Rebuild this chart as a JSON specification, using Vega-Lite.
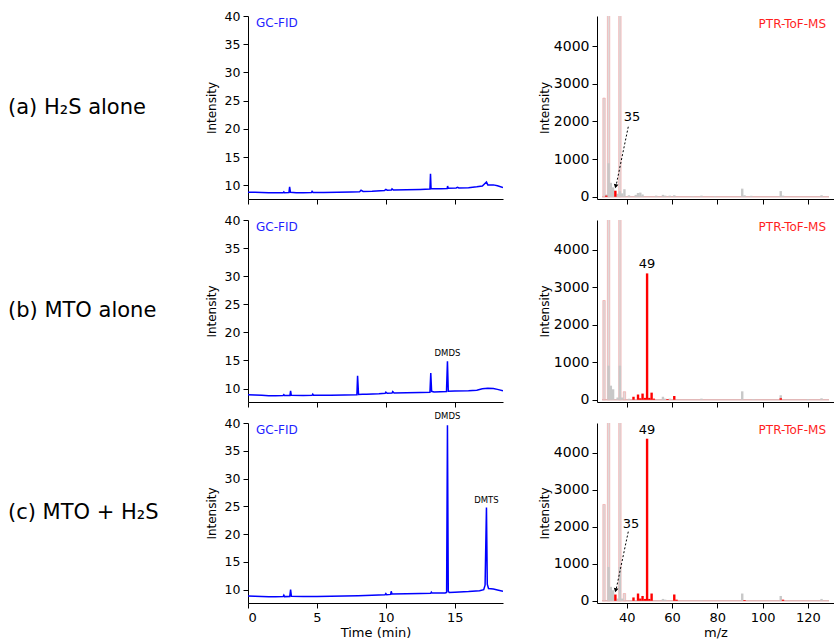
{
  "$schema": "https://vega.github.io/schema/vega-lite/v6.json",
  "padding": {"left": 8, "top": 10, "right": 0, "bottom": 0},
  "background": "white",
  "config": {
    "view": {"stroke": null},
    "text": {"font": "DejaVu Sans", "color": "#000"},
    "axis": {
      "labelFont": "DejaVu Sans", "titleFont": "DejaVu Sans", "titleFontWeight": "normal",
      "labelColor": "#000", "titleColor": "#000", "domainColor": "#000", "tickColor": "#000",
      "grid": false, "tickSize": 5, "labelPadding": 3, "domainWidth": 1, "tickWidth": 1
    }
  },
  "datasets": {
    "gcA": [
      {"t":0,"v":8.8},{"t":0.5,"v":8.78},{"t":1.0,"v":8.75},{"t":1.5,"v":8.72},{"t":2.0,"v":8.7},{"t":2.55,"v":8.72},{"t":2.6,"v":8.85},{"t":2.65,"v":8.72},
      {"t":2.97,"v":8.75},{"t":3.02,"v":9.75},{"t":3.08,"v":8.78},{"t":3.5,"v":8.72},{"t":4.0,"v":8.72},{"t":4.6,"v":8.74},{"t":4.65,"v":8.95},{"t":4.72,"v":8.76},
      {"t":5.5,"v":8.76},{"t":6.5,"v":8.8},{"t":7.5,"v":8.85},{"t":8.1,"v":8.9},{"t":8.2,"v":9.15},{"t":8.35,"v":8.95},{"t":9.0,"v":8.98},{"t":9.9,"v":9.1},
      {"t":10.0,"v":9.3},{"t":10.1,"v":9.15},{"t":10.4,"v":9.2},{"t":10.45,"v":9.4},{"t":10.55,"v":9.2},{"t":11.5,"v":9.25},{"t":12.5,"v":9.3},{"t":13.2,"v":9.35},
      {"t":13.24,"v":12.06},{"t":13.28,"v":9.45},{"t":13.4,"v":9.4},{"t":14.0,"v":9.42},{"t":14.45,"v":9.45},{"t":14.48,"v":9.9},{"t":14.52,"v":9.5},{"t":15.1,"v":9.55},
      {"t":15.2,"v":9.65},{"t":15.3,"v":9.55},{"t":16.0,"v":9.6},{"t":16.6,"v":9.75},{"t":17.0,"v":9.9},{"t":17.3,"v":10.6},{"t":17.4,"v":10.1},{"t":17.8,"v":10.1},
      {"t":18.1,"v":9.95},{"t":18.5,"v":9.65}
    ],
    "gcB": [
      {"t":0,"v":8.88},{"t":0.5,"v":8.85},{"t":1.0,"v":8.8},{"t":1.5,"v":8.72},{"t":2.0,"v":8.72},{"t":2.55,"v":8.75},{"t":2.6,"v":8.9},{"t":2.65,"v":8.75},
      {"t":3.04,"v":8.75},{"t":3.09,"v":9.6},{"t":3.14,"v":8.78},{"t":4.0,"v":8.76},{"t":4.65,"v":8.78},{"t":4.7,"v":9.0},{"t":4.76,"v":8.78},{"t":6.0,"v":8.8},
      {"t":7.0,"v":8.85},{"t":7.9,"v":8.88},{"t":7.95,"v":12.25},{"t":8.02,"v":8.95},{"t":8.3,"v":9.0},{"t":8.6,"v":8.98},{"t":9.5,"v":9.05},{"t":9.95,"v":9.15},
      {"t":10.0,"v":9.35},{"t":10.1,"v":9.15},{"t":10.45,"v":9.2},{"t":10.5,"v":9.45},{"t":10.6,"v":9.2},{"t":11.5,"v":9.25},{"t":12.5,"v":9.3},{"t":13.2,"v":9.35},
      {"t":13.26,"v":12.77},{"t":13.32,"v":9.5},{"t":13.5,"v":9.4},{"t":14.4,"v":9.45},{"t":14.47,"v":14.84},{"t":14.53,"v":9.5},{"t":15.0,"v":9.55},{"t":16.0,"v":9.6},
      {"t":16.6,"v":9.7},{"t":17.0,"v":9.95},{"t":17.4,"v":10.05},{"t":17.8,"v":10.0},{"t":18.1,"v":9.85},{"t":18.5,"v":9.6}
    ],
    "gcC": [
      {"t":0,"v":8.85},{"t":0.5,"v":8.82},{"t":1.0,"v":8.78},{"t":1.5,"v":8.72},{"t":2.0,"v":8.72},{"t":2.55,"v":8.75},{"t":2.6,"v":9.0},{"t":2.65,"v":8.75},
      {"t":3.03,"v":8.78},{"t":3.09,"v":10.0},{"t":3.15,"v":8.8},{"t":4.0,"v":8.75},{"t":5.0,"v":8.76},{"t":6.0,"v":8.8},{"t":7.0,"v":8.85},{"t":8.0,"v":8.9},
      {"t":9.0,"v":8.98},{"t":9.95,"v":9.1},{"t":10.0,"v":9.3},{"t":10.06,"v":9.1},{"t":10.35,"v":9.15},{"t":10.39,"v":9.7},{"t":10.45,"v":9.2},{"t":11.5,"v":9.25},
      {"t":12.5,"v":9.3},{"t":13.25,"v":9.35},{"t":13.3,"v":9.55},{"t":13.35,"v":9.38},{"t":14.3,"v":9.42},{"t":14.41,"v":9.5},{"t":14.47,"v":39.6},{"t":14.53,"v":9.7},
      {"t":14.6,"v":9.5},{"t":15.0,"v":9.55},{"t":16.0,"v":9.65},{"t":16.8,"v":9.8},{"t":17.1,"v":10.0},{"t":17.2,"v":10.8},{"t":17.3,"v":24.8},{"t":17.36,"v":11.0},
      {"t":17.45,"v":10.2},{"t":17.8,"v":10.1},{"t":18.1,"v":9.95},{"t":18.5,"v":9.7}
    ],
    "msA": [
      {"mz":30,"i":2620,"s":"p"},{"mz":32,"i":20000,"s":"p"},{"mz":37,"i":20000,"s":"p"},
      {"mz":31,"i":60,"s":"g"},{"mz":32,"i":890,"s":"g"},{"mz":33,"i":370,"s":"g"},{"mz":34,"i":250,"s":"g"},{"mz":36,"i":80,"s":"g"},{"mz":37,"i":150,"s":"g"},
      {"mz":38,"i":90,"s":"g"},{"mz":39,"i":200,"s":"g"},{"mz":41,"i":40,"s":"g"},{"mz":44,"i":50,"s":"g"},{"mz":45,"i":100,"s":"g"},{"mz":46,"i":110,"s":"g"},
      {"mz":47,"i":60,"s":"g"},{"mz":53,"i":30,"s":"g"},{"mz":56,"i":50,"s":"g"},{"mz":57,"i":30,"s":"g"},{"mz":59,"i":30,"s":"g"},{"mz":61,"i":40,"s":"g"},
      {"mz":69,"i":20,"s":"g"},{"mz":73,"i":30,"s":"g"},{"mz":79,"i":20,"s":"g"},{"mz":91,"i":215,"s":"g"},{"mz":92,"i":40,"s":"g"},{"mz":95,"i":25,"s":"g"},
      {"mz":108,"i":150,"s":"g"},{"mz":109,"i":30,"s":"g"},{"mz":126,"i":40,"s":"g"},
      {"mz":35,"i":160,"s":"r"},{"mz":31,"i":30,"s":"r"}
    ],
    "msB": [
      {"mz":30,"i":2650,"s":"p"},{"mz":32,"i":20000,"s":"p"},{"mz":37,"i":20000,"s":"p"},{"mz":39,"i":215,"s":"p"},
      {"mz":32,"i":910,"s":"g"},{"mz":33,"i":376,"s":"g"},{"mz":34,"i":280,"s":"g"},{"mz":36,"i":60,"s":"g"},{"mz":37,"i":910,"s":"g"},{"mz":38,"i":60,"s":"g"},
      {"mz":41,"i":30,"s":"g"},{"mz":56,"i":80,"s":"g"},{"mz":57,"i":30,"s":"g"},{"mz":59,"i":30,"s":"g"},{"mz":73,"i":30,"s":"g"},{"mz":91,"i":225,"s":"g"},
      {"mz":96,"i":20,"s":"g"},{"mz":108,"i":120,"s":"g"},{"mz":120,"i":20,"s":"g"},{"mz":126,"i":40,"s":"g"},
      {"mz":43,"i":80,"s":"r"},{"mz":45,"i":140,"s":"r"},{"mz":46,"i":40,"s":"r"},{"mz":47,"i":165,"s":"r"},{"mz":48,"i":50,"s":"r"},{"mz":49,"i":3374,"s":"r"},
      {"mz":50,"i":50,"s":"r"},{"mz":51,"i":190,"s":"r"},{"mz":52,"i":30,"s":"r"},{"mz":58,"i":20,"s":"r"},{"mz":61,"i":100,"s":"r"},{"mz":108,"i":40,"s":"r"}
    ],
    "msC": [
      {"mz":30,"i":2600,"s":"p"},{"mz":32,"i":20000,"s":"p"},{"mz":37,"i":20000,"s":"p"},{"mz":39,"i":196,"s":"p"},
      {"mz":32,"i":913,"s":"g"},{"mz":33,"i":376,"s":"g"},{"mz":34,"i":285,"s":"g"},{"mz":36,"i":60,"s":"g"},{"mz":37,"i":913,"s":"g"},{"mz":38,"i":60,"s":"g"},
      {"mz":56,"i":50,"s":"g"},{"mz":57,"i":30,"s":"g"},{"mz":73,"i":20,"s":"g"},{"mz":91,"i":196,"s":"g"},{"mz":108,"i":130,"s":"g"},{"mz":126,"i":50,"s":"g"},
      {"mz":35,"i":169,"s":"r"},{"mz":43,"i":90,"s":"r"},{"mz":45,"i":196,"s":"r"},{"mz":46,"i":60,"s":"r"},{"mz":47,"i":130,"s":"r"},{"mz":48,"i":50,"s":"r"},
      {"mz":49,"i":4376,"s":"r"},{"mz":50,"i":50,"s":"r"},{"mz":51,"i":196,"s":"r"},{"mz":61,"i":170,"s":"r"},{"mz":62,"i":30,"s":"r"},{"mz":92,"i":20,"s":"r"},{"mz":109,"i":30,"s":"r"}
    ]
  },
  "columns": 3,
  "spacing": {"row": 21, "column": 94},
  "bounds": "flush",
  "concat": [
    {"width": 146, "height": 183, "data": {"values": [{"label": "(a) H₂S alone"}]},
     "mark": {"type": "text", "align": "left", "baseline": "middle", "fontSize": 21, "dx": -73},
     "encoding": {"text": {"field": "label"}}},
    {
      "width": 255, "height": 183,
      "encoding": {
        "x": {"field": "t", "type": "quantitative", "scale": {"domain": [0, 18.5], "nice": false, "zero": false}, "axis": {"values": [0,5,10,15], "labels": false, "title": null}},
        "y": {"field": "v", "type": "quantitative", "scale": {"domain": [7.6, 40], "nice": false, "zero": false}, "axis": {"values": [10,15,20,25,30,35,40], "title": "Intensity", "labelFontSize": 12.5, "titleFontSize": 12, "titlePadding": 6}}
      },
      "layer": [
        {"data": {"name": "gcA"}, "mark": {"type": "line", "color": "#0000ff", "strokeWidth": 1.5, "clip": true}},
        {"data": {"values": [{"t": 0.58, "v": 38.75, "txt": "GC-FID"}]}, "mark": {"type": "text", "align": "left", "baseline": "middle", "fontSize": 12, "color": "#1f1fff"}, "encoding": {"text": {"field": "txt"}}}
      ]
    },
    {
      "width": 237, "height": 183,
      "encoding": {
        "x": {"field": "mz", "type": "quantitative", "scale": {"domain": [29.1, 129.3], "nice": false, "zero": false}, "axis": {"values": [40,60,80,100,120], "labels": false, "title": null}},
        "y": {"field": "i", "type": "quantitative", "scale": {"domain": [-60, 4800], "nice": false, "zero": false}, "axis": {"values": [0,1000,2000,3000,4000], "format": "d", "title": "Intensity", "labelFontSize": 14, "titleFontSize": 12, "titlePadding": 2}}
      },
      "layer": [
        {"data": {"values": [{"mz": 29.1, "mz2": 129.3, "i": 0}]}, "mark": {"type": "rule", "color": "#e2b8b8", "strokeWidth": 1.5}, "encoding": {"x2": {"field": "mz2"}}},
        {"data": {"name": "msA"}, "transform": [{"filter": "datum.s == 'p'"}], "mark": {"type": "bar", "size": 2.4, "fill": "#dedada", "stroke": "#f2a0a0", "strokeWidth": 0.6, "clip": true}},
        {"data": {"name": "msA"}, "transform": [{"filter": "datum.s == 'g'"}], "mark": {"type": "bar", "size": 2.4, "color": "#c8c8c8", "clip": true}},
        {"data": {"name": "msA"}, "transform": [{"filter": "datum.s == 'r'"}], "mark": {"type": "bar", "size": 2.4, "color": "#ff0000", "clip": true}},
        {"data": {"values": [{"mz": 40.7, "i": 1859, "mz2": 35.2, "i2": 260}]}, "mark": {"type": "rule", "color": "#000", "strokeWidth": 1, "strokeDash": [2, 2]}, "encoding": {"x2": {"field": "mz2"}, "y2": {"field": "i2"}}},
        {"data": {"values": [{"mz": 35.15, "i": 280}]}, "mark": {"type": "point", "shape": "triangle-down", "size": 22, "angle": 12, "filled": true, "color": "#000", "opacity": 1}},
        {"data": {"values": [{"mz": 42.3, "i": 2125, "txt": "35"}]}, "mark": {"type": "text", "align": "center", "baseline": "middle", "fontSize": 13}, "encoding": {"text": {"field": "txt"}}},
        {"data": {"values": [{"mz": 128.0, "i": 4600, "txt": "PTR-ToF-MS"}]}, "mark": {"type": "text", "align": "right", "baseline": "middle", "fontSize": 12, "color": "#ff1f1f"}, "encoding": {"text": {"field": "txt"}}}
      ]
    },
    {"width": 146, "height": 182, "data": {"values": [{"label": "(b) MTO alone"}]},
     "mark": {"type": "text", "align": "left", "baseline": "middle", "fontSize": 21, "dx": -73},
     "encoding": {"text": {"field": "label"}}},
    {
      "width": 255, "height": 182,
      "encoding": {
        "x": {"field": "t", "type": "quantitative", "scale": {"domain": [0, 18.5], "nice": false, "zero": false}, "axis": {"values": [0,5,10,15], "labels": false, "title": null}},
        "y": {"field": "v", "type": "quantitative", "scale": {"domain": [7.6, 40], "nice": false, "zero": false}, "axis": {"values": [10,15,20,25,30,35,40], "title": "Intensity", "labelFontSize": 12.5, "titleFontSize": 12, "titlePadding": 6}}
      },
      "layer": [
        {"data": {"name": "gcB"}, "mark": {"type": "line", "color": "#0000ff", "strokeWidth": 1.5, "clip": true}},
        {"data": {"values": [{"t": 0.58, "v": 38.75, "txt": "GC-FID"}]}, "mark": {"type": "text", "align": "left", "baseline": "middle", "fontSize": 12, "color": "#1f1fff"}, "encoding": {"text": {"field": "txt"}}},
        {"data": {"values": [{"t": 14.47, "v": 15.5, "txt": "DMDS"}]}, "mark": {"type": "text", "align": "center", "baseline": "bottom", "fontSize": 8.5}, "encoding": {"text": {"field": "txt"}}}
      ]
    },
    {
      "width": 237, "height": 182,
      "encoding": {
        "x": {"field": "mz", "type": "quantitative", "scale": {"domain": [29.1, 129.3], "nice": false, "zero": false}, "axis": {"values": [40,60,80,100,120], "labels": false, "title": null}},
        "y": {"field": "i", "type": "quantitative", "scale": {"domain": [-60, 4800], "nice": false, "zero": false}, "axis": {"values": [0,1000,2000,3000,4000], "format": "d", "title": "Intensity", "labelFontSize": 14, "titleFontSize": 12, "titlePadding": 2}}
      },
      "layer": [
        {"data": {"values": [{"mz": 29.1, "mz2": 129.3, "i": 0}]}, "mark": {"type": "rule", "color": "#e2b8b8", "strokeWidth": 1.5}, "encoding": {"x2": {"field": "mz2"}}},
        {"data": {"name": "msB"}, "transform": [{"filter": "datum.s == 'p'"}], "mark": {"type": "bar", "size": 2.4, "fill": "#dedada", "stroke": "#f2a0a0", "strokeWidth": 0.6, "clip": true}},
        {"data": {"name": "msB"}, "transform": [{"filter": "datum.s == 'g'"}], "mark": {"type": "bar", "size": 2.4, "color": "#c8c8c8", "clip": true}},
        {"data": {"name": "msB"}, "transform": [{"filter": "datum.s == 'r'"}], "mark": {"type": "bar", "size": 2.4, "color": "#ff0000", "clip": true}},
        {"data": {"values": [{"mz": 49, "i": 3519, "txt": "49"}]}, "mark": {"type": "text", "align": "center", "baseline": "alphabetic", "fontSize": 13}, "encoding": {"text": {"field": "txt"}}},
        {"data": {"values": [{"mz": 128.0, "i": 4600, "txt": "PTR-ToF-MS"}]}, "mark": {"type": "text", "align": "right", "baseline": "middle", "fontSize": 12, "color": "#ff1f1f"}, "encoding": {"text": {"field": "txt"}}}
      ]
    },
    {"width": 146, "height": 180, "data": {"values": [{"label": "(c) MTO + H₂S"}]},
     "mark": {"type": "text", "align": "left", "baseline": "middle", "fontSize": 21, "dx": -73},
     "encoding": {"text": {"field": "label"}}},
    {
      "width": 255, "height": 180,
      "encoding": {
        "x": {"field": "t", "type": "quantitative", "scale": {"domain": [0, 18.5], "nice": false, "zero": false}, "axis": {"values": [0,5,10,15], "title": "Time (min)", "labelFontSize": 13, "titleFontSize": 13, "titlePadding": 2}},
        "y": {"field": "v", "type": "quantitative", "scale": {"domain": [7.6, 40], "nice": false, "zero": false}, "axis": {"values": [10,15,20,25,30,35,40], "title": "Intensity", "labelFontSize": 12.5, "titleFontSize": 12, "titlePadding": 6}}
      },
      "layer": [
        {"data": {"name": "gcC"}, "mark": {"type": "line", "color": "#0000ff", "strokeWidth": 1.5, "clip": true}},
        {"data": {"values": [{"t": 0.58, "v": 38.8, "txt": "GC-FID"}]}, "mark": {"type": "text", "align": "left", "baseline": "middle", "fontSize": 12, "color": "#1f1fff"}, "encoding": {"text": {"field": "txt"}}},
        {"data": {"values": [{"t": 14.47, "v": 40.3, "txt": "DMDS"}, {"t": 17.3, "v": 25.2, "txt": "DMTS"}]}, "mark": {"type": "text", "align": "center", "baseline": "bottom", "fontSize": 8.5}, "encoding": {"text": {"field": "txt"}}}
      ]
    },
    {
      "width": 237, "height": 180,
      "encoding": {
        "x": {"field": "mz", "type": "quantitative", "scale": {"domain": [29.1, 129.3], "nice": false, "zero": false}, "axis": {"values": [40,60,80,100,120], "title": "m/z", "labelFontSize": 13, "titleFontSize": 13, "titlePadding": 2}},
        "y": {"field": "i", "type": "quantitative", "scale": {"domain": [-60, 4800], "nice": false, "zero": false}, "axis": {"values": [0,1000,2000,3000,4000], "format": "d", "title": "Intensity", "labelFontSize": 14, "titleFontSize": 12, "titlePadding": 2}}
      },
      "layer": [
        {"data": {"values": [{"mz": 29.1, "mz2": 129.3, "i": 0}]}, "mark": {"type": "rule", "color": "#e2b8b8", "strokeWidth": 1.5}, "encoding": {"x2": {"field": "mz2"}}},
        {"data": {"name": "msC"}, "transform": [{"filter": "datum.s == 'p'"}], "mark": {"type": "bar", "size": 2.4, "fill": "#dedada", "stroke": "#f2a0a0", "strokeWidth": 0.6, "clip": true}},
        {"data": {"name": "msC"}, "transform": [{"filter": "datum.s == 'g'"}], "mark": {"type": "bar", "size": 2.4, "color": "#c8c8c8", "clip": true}},
        {"data": {"name": "msC"}, "transform": [{"filter": "datum.s == 'r'"}], "mark": {"type": "bar", "size": 2.4, "color": "#ff0000", "clip": true}},
        {"data": {"values": [{"mz": 40.7, "i": 1866, "mz2": 35.2, "i2": 265}]}, "mark": {"type": "rule", "color": "#000", "strokeWidth": 1, "strokeDash": [2, 2]}, "encoding": {"x2": {"field": "mz2"}, "y2": {"field": "i2"}}},
        {"data": {"values": [{"mz": 35.15, "i": 285}]}, "mark": {"type": "point", "shape": "triangle-down", "size": 22, "angle": 12, "filled": true, "color": "#000", "opacity": 1}},
        {"data": {"values": [{"mz": 41.9, "i": 2073, "txt": "35"}]}, "mark": {"type": "text", "align": "center", "baseline": "middle", "fontSize": 13}, "encoding": {"text": {"field": "txt"}}},
        {"data": {"values": [{"mz": 49, "i": 4503, "txt": "49"}]}, "mark": {"type": "text", "align": "center", "baseline": "alphabetic", "fontSize": 13}, "encoding": {"text": {"field": "txt"}}},
        {"data": {"values": [{"mz": 128.0, "i": 4600, "txt": "PTR-ToF-MS"}]}, "mark": {"type": "text", "align": "right", "baseline": "middle", "fontSize": 12, "color": "#ff1f1f"}, "encoding": {"text": {"field": "txt"}}}
      ]
    }
  ]
}
